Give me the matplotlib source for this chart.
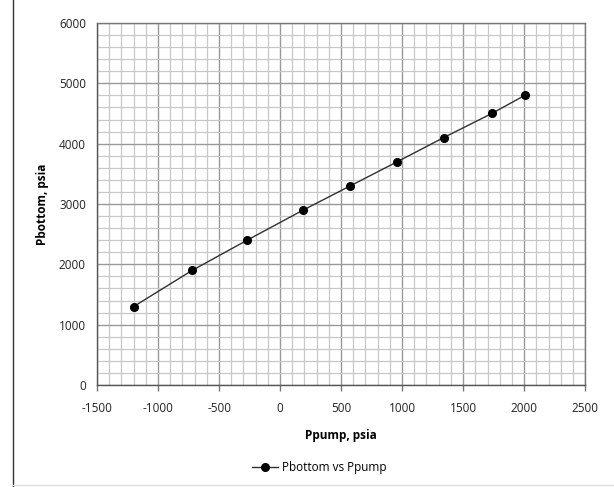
import numpy as np
import matplotlib.pyplot as plt
from matplotlib.ticker import MultipleLocator
from matplotlib.lines import Line2D

# 数据
ppump = [-1200, -720, -270, 190, 575, 960, 1340, 1735, 2005]
pbottom = [1300, 1900, 2400, 2900, 3300, 3700, 4100, 4500, 4800]
series_name = 'Pbottom vs Ppump'

plt.rcParams['font.family'] = ['Open Sans', 'DejaVu Sans']
plt.rcParams['axes.unicode_minus'] = False

fig = plt.figure(figsize=(6.14, 4.87), dpi=100)
ax = fig.add_axes([0.158, 0.2094, 0.795, 0.7434])

ax.plot(ppump, pbottom, color='#303030', lw=1.0, marker='o', ms=5.5,
        mfc='black', mec='black', label=series_name, zorder=3)

ax.set_xlim(-1500, 2500)
ax.set_ylim(0, 6000)
ax.xaxis.set_major_locator(MultipleLocator(500))
ax.xaxis.set_minor_locator(MultipleLocator(100))
ax.yaxis.set_major_locator(MultipleLocator(1000))
ax.yaxis.set_minor_locator(MultipleLocator(200))
ax.grid(which='major', color='#999999', lw=1.0)
ax.grid(which='minor', color='#c8c8c8', lw=0.9)
ax.set_axisbelow(True)

for s in ax.spines.values():
    s.set_color('#777777')
    s.set_linewidth(1.0)
ax.spines['left'].set_color('#555555')
ax.spines['bottom'].set_color('#555555')

ax.tick_params(which='major', direction='out', length=4, width=1,
               color='#777777', labelsize=8.5, labelcolor='#222222', pad=8)
ax.tick_params(which='minor', length=0)
ax.tick_params(axis='y', length=0, pad=8)

ax.set_xlabel('Ppump, psia', fontsize=8.5, fontweight='bold', labelpad=10)
ax.set_ylabel('Pbottom, psia', fontsize=8.5, fontweight='bold', labelpad=7)

fig.legend(loc='center', bbox_to_anchor=(0.52, 0.04), frameon=False,
           fontsize=8.5, handlelength=2.2, handletextpad=0.3)

# 图表外框线
fig.add_artist(Line2D([0.021, 0.021], [0.0, 1.0], color='#333333', lw=1.0))
fig.add_artist(Line2D([0.021, 1.0], [0.004, 0.004], color='#dddddd', lw=1.0))

plt.savefig('out.png', dpi=100)
